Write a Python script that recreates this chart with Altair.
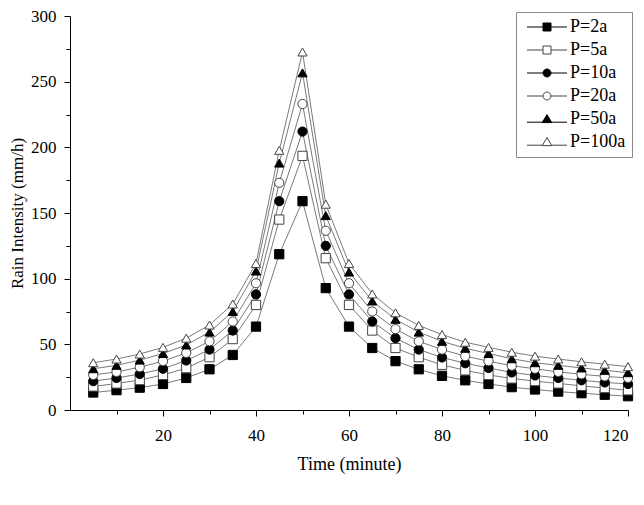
import altair as alt
import pandas as pd

times = [5, 10, 15, 20, 25, 30, 35, 40, 45, 50, 55, 60, 65, 70, 75, 80, 85, 90, 95, 100, 105, 110, 115, 120]
series_names = ["P=2a", "P=5a", "P=10a", "P=20a", "P=50a", "P=100a"]
p2 = [13.3, 15.1, 17.0, 19.8, 24.4, 31.0, 41.9, 63.5, 118.6, 159.0, 92.8, 63.5, 47.2, 37.2, 31.0, 26.0, 22.6, 19.8, 17.4, 15.6, 14.0, 12.8, 11.6, 10.5]
p5 = [17.9, 20.2, 22.8, 26.7, 31.9, 40.2, 54.0, 80.0, 145.0, 193.5, 115.6, 80.0, 60.5, 47.2, 40.2, 34.4, 30.2, 26.7, 24.0, 22.0, 20.2, 18.4, 16.7, 15.0]
p10 = [22.0, 24.4, 27.4, 31.4, 37.7, 46.0, 60.5, 88.0, 159.0, 212.0, 125.0, 88.0, 67.4, 54.7, 46.0, 40.0, 35.6, 32.0, 28.6, 26.3, 24.4, 22.6, 21.0, 19.8]
p20 = [26.7, 29.0, 32.6, 37.2, 43.5, 52.3, 67.4, 96.5, 173.0, 233.0, 136.5, 96.5, 75.0, 61.6, 52.3, 46.0, 41.0, 37.2, 33.7, 31.4, 29.0, 27.2, 25.6, 24.4]
p50 = [31.4, 34.0, 38.0, 43.0, 49.5, 59.3, 75.0, 105.8, 188.0, 256.7, 148.0, 105.0, 83.0, 69.0, 59.3, 52.3, 47.0, 43.0, 39.0, 36.0, 34.0, 32.0, 30.2, 28.4]
p100 = [36.0, 38.8, 42.6, 47.7, 54.7, 64.7, 80.7, 111.6, 197.7, 272.6, 156.7, 111.6, 88.4, 74.0, 64.4, 57.4, 51.6, 47.7, 44.0, 41.0, 38.8, 36.7, 34.9, 33.0]

x_major = [20, 40, 60, 80, 100, 120]
x_minor = [10, 30, 50, 70, 90, 110]
y_major = [0, 50, 100, 150, 200, 250, 300]
y_minor = [25, 75, 125, 175, 225, 275]

all_series = [p2, p5, p10, p20, p50, p100]
rows = []
for name, vals in zip(series_names, all_series):
    for t, v in zip(times, vals):
        rows.append({"time": t, "value": v, "series": name})
df = pd.DataFrame(rows)

FONT = "Liberation Serif"
shapes = ["square", "square", "circle", "circle", "triangle-up", "triangle-up"]
fills = ["black", "white", "black", "white", "black", "white"]
strokes = ["black", "#444", "black", "#444", "black", "#444"]
legend_shapes = [
    "M-5,0H-1M1,0H5M-1,-1H1V1H-1Z",
    "M-5,0H-1M1,0H5M-1,-1H1V1H-1Z",
    "M-5,0H-1M1,0H5M-1,0A1,1,0,1,0,1,0A1,1,0,1,0,-1,0Z",
    "M-5,0H-1M1,0H5M-1,0A1,1,0,1,0,1,0A1,1,0,1,0,-1,0Z",
    "M-5,0.8H-1.1M1.1,0.8H5M0,-1.1L1.2,0.9H-1.2Z",
    "M-5,0.8H-1.1M1.1,0.8H5M0,-1.1L1.2,0.9H-1.2Z",
]

xscale = alt.Scale(domain=[0, 120], nice=False, zero=False)
yscale = alt.Scale(domain=[0, 300], nice=False)

x_main = alt.X("time:Q", scale=xscale, title="Time (minute)",
               axis=alt.Axis(values=x_major, tickSize=6, labelPadding=11, titlePadding=12,
                             orient="bottom"))
y_main = alt.Y("value:Q", scale=yscale, title="Rain Intensity (mm/h)",
               axis=alt.Axis(values=y_major, tickSize=6, labelPadding=8, titlePadding=4,
                             titleFontSize=17, orient="left"))

lines = alt.Chart(df).mark_line(color="#7a7a7a", strokeWidth=1).encode(
    x=x_main, y=y_main, detail="series:N"
)

points = alt.Chart(df).mark_point(filled=True, opacity=1, size=85, strokeWidth=1).encode(
    x=alt.X("time:Q", scale=xscale, axis=None),
    y=alt.Y("value:Q", scale=yscale, axis=None),
    shape=alt.Shape("series:N", scale=alt.Scale(domain=series_names, range=shapes), legend=None),
    fill=alt.Fill("series:N", scale=alt.Scale(domain=series_names, range=fills), legend=None),
    stroke=alt.Stroke("series:N", scale=alt.Scale(domain=series_names, range=strokes), legend=None),
)

leg = alt.Legend(title=None, orient="none", legendX=446, legendY=-4, symbolSize=64,
                 symbolStrokeWidth=1, symbolOffset=16, labelOffset=14, rowPadding=5,
                 labelFont=FONT, labelFontSize=18, labelColor="black",
                 strokeColor="#888", padding=6, fillColor="white")

legend_layer = alt.Chart(df).transform_filter("false").mark_point(filled=True, opacity=1).encode(
    x=alt.X("time:Q", scale=xscale,
            axis=alt.Axis(values=x_minor, labels=False, tickSize=4, domain=False, title=None,
                          orient="bottom")),
    y=alt.Y("value:Q", scale=yscale,
            axis=alt.Axis(values=y_minor, labels=False, tickSize=4, domain=False, title=None,
                          orient="left")),
    shape=alt.Shape("series:N", scale=alt.Scale(domain=series_names, range=legend_shapes), legend=leg),
    fill=alt.Fill("series:N", scale=alt.Scale(domain=series_names, range=fills), legend=leg),
    stroke=alt.Stroke("series:N", scale=alt.Scale(domain=series_names, range=strokes), legend=leg),
)

chart = alt.layer(lines, points, legend_layer).resolve_scale(
    shape="independent", fill="independent", stroke="independent"
).resolve_axis(x="independent", y="independent").properties(
    width=558, height=394,
    padding={"left": 62, "top": 8, "right": 8, "bottom": 80},
    autosize=alt.AutoSizeParams(type="none"),
).configure_view(stroke=None).configure_axis(
    grid=False, domainColor="black", tickColor="black", labelColor="black", titleColor="black",
    labelFont=FONT, titleFont=FONT, labelFontSize=17, titleFontSize=18, titleFontWeight="normal",
)

chart.save("out.html", embed_options={"renderer": "svg", "actions": False})
